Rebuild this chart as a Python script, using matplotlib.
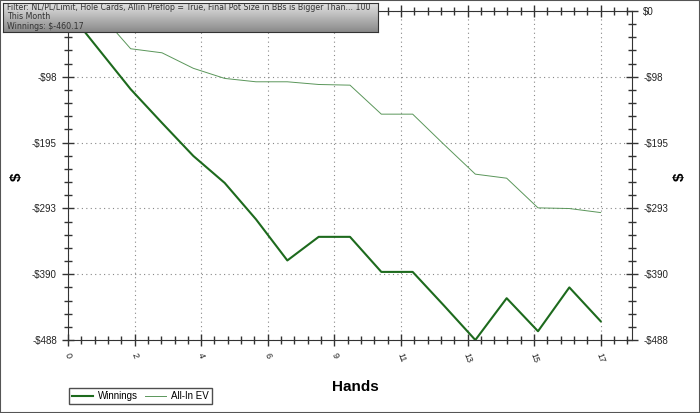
import numpy as np
import matplotlib
matplotlib.use("Agg")
import matplotlib.pyplot as plt
from matplotlib.ticker import MultipleLocator, AutoMinorLocator, FuncFormatter
from matplotlib.patches import Rectangle

plt.rcParams['font.family'] = ['Liberation Sans', 'DejaVu Sans']

# data
hands = list(range(18))
winnings = [0, -58, -116, -166, -215, -255, -309, -370, -335, -335,
            -387, -387, -437, -488, -426, -475, -410, -460.17]
allin_ev = [0, -3, -56, -62, -85, -100, -105, -105, -109, -110,
            -153, -153, -198, -242, -248, -292, -293, -299]
filter_lines = ["Filter: NL/PL/Limit, Hole Cards, Allin Preflop = True, Final Pot Size in BBs is Bigger Than... 100",
                "This Month",
                "Winnings: $-460.17"]

W, H = 700, 413
fig = plt.figure(figsize=(7, 4.13), dpi=100)
ax = fig.add_axes([68 / W, 1 - 340 / H, (632 - 68) / W, (340 - 11) / H])

ax.plot(hands, winnings, color='#1d6a1d', lw=1.5, label='Winnings', zorder=3)
ax.plot(hands, allin_ev, color='#5a965a', lw=0.7, label='All-In EV', zorder=3)

ymin = min(winnings)
ax.set_xlim(0, 18)
ax.set_ylim(ymin, 0)

ax.xaxis.set_major_locator(MultipleLocator(17 / 8))
ax.xaxis.set_minor_locator(AutoMinorLocator(5))
ax.yaxis.set_major_locator(MultipleLocator(-ymin / 5))
ax.yaxis.set_minor_locator(AutoMinorLocator(5))
ax.xaxis.set_major_formatter(FuncFormatter(lambda v, p: "%d" % int(v + 0.5)))


def money(v, p):
    if abs(v) < 0.5:
        return "$0"
    return "-$%d" % int(abs(v) + 0.5)


ax.yaxis.set_major_formatter(FuncFormatter(money))

ax.tick_params(which='both', direction='inout', colors='#333333',
               top=True, right=True, labelright=True, labelsize=7)
ax.tick_params(which='both', labelcolor='#222222')
ax.tick_params(which='major', length=9, width=1)
ax.tick_params(which='minor', length=6, width=1)
ax.tick_params(axis='x', labelrotation=-70, pad=4, labelsize=6.5)
for lab in ax.get_xticklabels():
    lab.set_ha('center')
for s in ax.spines.values():
    s.set_color('#333333')

# left "$0" sits under the filter banner anyway
fig.canvas.draw()
for t in ax.yaxis.get_major_ticks():
    if abs(t.get_loc()) < 0.5:
        t.label1.set_visible(False)

ax.grid(True, which='major', linestyle=(0, (1, 3)), color='#888888', lw=0.8)

ax.set_xlabel('Hands', fontsize=11, fontweight='bold')
ax.xaxis.set_label_coords((355 - 68) / 564, (340 - 380) / 329)
fig.text(17 / W, 1 - 177 / H, '$', fontsize=11, fontweight='bold',
         rotation=90, ha='center', va='center')
fig.text(680 / W, 1 - 177 / H, '$', fontsize=11, fontweight='bold',
         rotation=90, ha='center', va='center')

fig.legend(loc='lower left', bbox_to_anchor=(69 / W, 1 - 404 / H), ncol=2,
           fontsize=7, frameon=True, fancybox=False, edgecolor='#222222',
           borderpad=0.3, handlelength=2.2, columnspacing=0.7,
           handletextpad=0.5, borderaxespad=0)

# filter banner with grey gradient
bx = fig.add_axes([3 / W, 1 - 32 / H, 375 / W, 29 / H], zorder=5)
grad = np.linspace(0, 1, 64).reshape(-1, 1)
bx.imshow(grad, aspect='auto', cmap=matplotlib.colors.LinearSegmentedColormap.from_list(
    'g', ['#e2e2e2', '#8a8a8a']), extent=[0, 1, 0, 1], origin='upper')
bx.set_xticks([])
bx.set_yticks([])
for s in bx.spines.values():
    s.set_color('#333333')
for i, t in enumerate(filter_lines):
    bx.text(0.01, 0.86 - i * 0.335, t, transform=bx.transAxes, fontsize=5.7,
            family='DejaVu Sans', color='#333333', va='center')

fig.patches.append(Rectangle((0, 0), 1, 1, transform=fig.transFigure, fill=False,
                             edgecolor='#555555', lw=1.5))

fig.savefig('out.png', dpi=100)
